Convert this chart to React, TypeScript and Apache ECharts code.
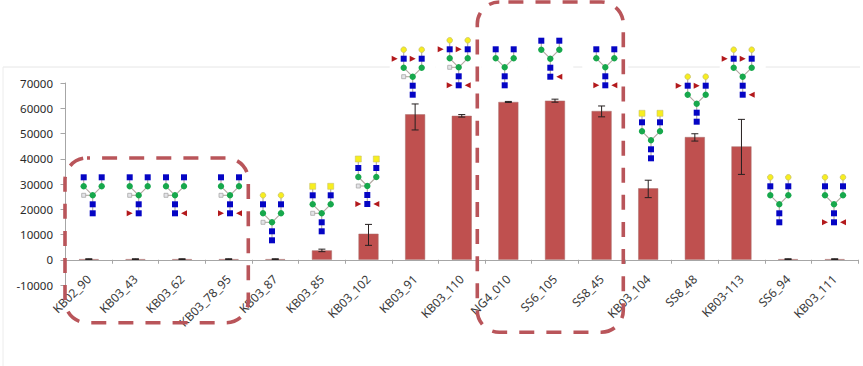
import React, { useEffect, useRef } from "react";
import * as echarts from "echarts";

const categories = ["KB02_90","KB03_43","KB03_62","KB03_78_95","KB03_87","KB03_85","KB03_102","KB03_91","KB03_110","NG4_010","SS6_105","SS8_45","KB03_104","SS8_48","KB03-113","SS6_94","KB03_111"];
const means = [250,250,250,250,250,3700,10300,57600,57000,62500,63000,58900,28300,48600,44900,250,250];
const errLow = [100,100,100,100,100,3200,5700,51400,56500,62300,62400,56600,24600,47000,33800,100,100];
const errHigh = [400,400,400,400,400,4200,14000,61700,57500,62700,63600,60900,31500,49900,55600,400,400];
const yTicks = { min: -10000, max: 70000, interval: 10000 };

// Glycan structure per category: terminal cap, antenna fucose, xylose, core fucose left/right
const caps = ["","","","","round","square","square","round","round","","","","square","round","round","round","round"];
const armFuc = [0,0,0,0,0,0,0,1,1,0,0,0,0,1,1,0,0];
const xylose = [1,1,1,1,1,1,1,1,1,0,0,0,0,0,0,0,0];
const coreFucL = [0,1,0,1,0,0,1,0,1,0,0,1,0,0,0,0,1];
const coreFucR = [0,0,1,1,0,0,1,0,1,0,1,1,0,0,1,0,1];

// Drawn position of each glycan icon (its central mannose), px
const glycanX = [92.7,138.7,175,230,272,321.7,367.3,412.7,458.7,504.7,550.3,605.3,651,696.7,742.7,779.3,834];
const glycanY = [195.3,195.3,195.3,195.3,222.3,213.3,186,76.7,67.3,67.3,58.7,67.3,140.3,103.7,76.7,204.3,204.3];

const BLUE = "#0505c4", GREEN = "#17a84c", YELLOW = "#f7ee1e", RED = "#b3191c", LINK = "#b0a8a0";
const DASH = "#b9555a";
const Z = 10;

function sq(x: number, y: number, fill: string) {
  return { type: "rect", z: Z, z2: 5, shape: { x: x - 3, y: y - 3, width: 6, height: 6 }, style: { fill, stroke: fill === YELLOW ? "#c9c26a" : undefined, lineWidth: 0.6 } };
}
function dot(x: number, y: number, fill: string, r = 3.2, stroke?: string) {
  return { type: "circle", z: Z, z2: 5, shape: { cx: x, cy: y, r }, style: { fill, stroke, lineWidth: stroke ? 0.8 : 0 } };
}
function link(x1: number, y1: number, x2: number, y2: number) {
  return { type: "line", z: Z, z2: 1, shape: { x1, y1, x2, y2 }, style: { stroke: LINK, lineWidth: 1.1 } };
}
function tri(x: number, y: number, dir: number) {
  return { type: "polygon", z: Z, z2: 5, shape: { points: [[x - dir * 3, y - 3], [x + dir * 3, y], [x - dir * 3, y + 3]] }, style: { fill: RED } };
}

function glycan(i: number) {
  const k: any[] = [];
  const armTop = caps[i] ? -27 : -18;
  k.push(link(0, 0, -9, -9), link(0, 0, 9, -9), link(-9, -9, -9, armTop), link(9, -9, 9, armTop), link(0, 0, 0, 18));
  for (const s of [-9, 9]) {
    k.push(dot(s, -9, GREEN), sq(s, -18, BLUE));
    if (caps[i] === "round") k.push(dot(s, -27, YELLOW, 2.8, "#c9c26a"));
    if (caps[i] === "square") k.push(sq(s, -27, YELLOW));
    if (armFuc[i]) k.push(tri(s - 9, -18, 1));
  }
  k.push(dot(0, 0, GREEN), sq(0, 9, BLUE), sq(0, 18, BLUE));
  if (xylose[i]) k.push(link(0, 0, -9, 0), { type: "rect", z: Z, z2: 5, shape: { x: -11, y: -2, width: 4, height: 4 }, style: { fill: "#e4e4e8", stroke: "#a8a8a8", lineWidth: 0.8 } });
  if (coreFucL[i]) k.push(tri(-9, 18, 1));
  if (coreFucR[i]) k.push(tri(9, 18, -1));
  return { type: "group", x: glycanX[i], y: glycanY[i], children: k };
}

function backing(i: number) {
  return { type: "rect", shape: { x: glycanX[i] - 23, y: glycanY[i] - 32, width: 46, height: 54 }, style: { fill: "#ffffff" }, z: 6 };
}

function box(x: number, y: number, w: number, h: number, r: number, off: number) {
  return { type: "rect", z: 20, shape: { x, y, width: w, height: h, r }, style: { fill: "none", stroke: DASH, lineWidth: 3.6, lineDash: [15, 12.1], lineDashOffset: off } };
}

export default function App() {
  const ref = useRef<HTMLDivElement>(null);
  useEffect(() => {
    const chart = echarts.init(ref.current!, undefined, { renderer: "svg" });
    const font = "'Noto Sans', sans-serif";
    const idx = categories.map((_, i) => i);
    chart.setOption({
      animation: false,
      backgroundColor: "#ffffff",
      grid: { left: 65.5, right: 5, top: 83, bottom: 81, containLabel: false },
      xAxis: {
        type: "category", data: categories,
        axisLine: { onZero: true, lineStyle: { color: "#a6a6a6", width: 1 } },
        axisTick: { show: true, length: 4, alignWithLabel: false, lineStyle: { color: "#a6a6a6" } },
        axisLabel: { interval: 0, rotate: 45, fontFamily: font, fontSize: 12, color: "#3a3a3a", margin: -8 },
      },
      yAxis: {
        type: "value", ...yTicks,
        splitLine: { show: false },
        axisLine: { show: true, lineStyle: { color: "#a6a6a6", width: 1 } },
        axisTick: { show: true, length: 5, lineStyle: { color: "#a6a6a6" } },
        axisLabel: { fontFamily: font, fontSize: 11.5, color: "#2a2a2a", margin: 12.5, formatter: (v: number) => String(v) },
      },
      series: [
        { type: "bar", data: means, barWidth: 20, itemStyle: { color: "#bf504f", borderColor: "#a8706e", borderWidth: 0.5 }, z: 2 },
        {
          type: "custom", z: 3,
          data: idx.map((i) => [i, errLow[i], errHigh[i]]),
          encode: { x: 0, y: [1, 2] },
          renderItem: (_: any, api: any) => {
            const lo = api.coord([api.value(0), api.value(1)]);
            const hi = api.coord([api.value(0), api.value(2)]);
            const style = { stroke: "#262020", lineWidth: 1, fill: "none" };
            return {
              type: "group",
              children: [
                { type: "line", shape: { x1: lo[0], y1: lo[1], x2: hi[0], y2: hi[1] }, style },
                { type: "line", shape: { x1: lo[0] - 3.5, y1: lo[1], x2: lo[0] + 3.5, y2: lo[1] }, style },
                { type: "line", shape: { x1: hi[0] - 3.5, y1: hi[1], x2: hi[0] + 3.5, y2: hi[1] }, style },
              ],
            };
          },
        },
      ],
      graphic: { elements: [
        { type: "line", z: 5, shape: { x1: 3, y1: 67, x2: 860, y2: 67 }, style: { stroke: "#e6e6e6", lineWidth: 1 } },
        { type: "line", z: 5, shape: { x1: 3, y1: 67, x2: 3, y2: 366 }, style: { stroke: "#ececec", lineWidth: 1 } },
        ...[7, 8, 9, 10, 11, 13, 14].map(backing),
        ...idx.map(glycan),
        box(65, 158, 183.3, 164.7, 22, 12),
        box(477.3, 2, 146, 330.3, 22, 18.3),
      ] },
    });
    return () => chart.dispose();
  }, []);
  return <div ref={ref} style={{ position: "fixed", left: 0, top: 0, width: 863, height: 366 }} />;
}
